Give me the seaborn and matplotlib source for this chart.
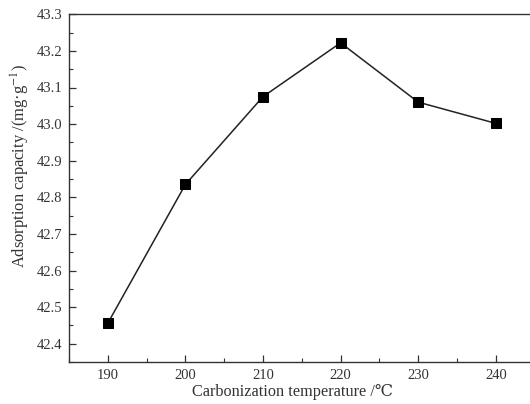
import matplotlib
matplotlib.use("Agg")
import matplotlib.pyplot as plt
import seaborn as sns
import pandas as pd
from matplotlib.ticker import MultipleLocator

temperature = [190, 200, 210, 220, 230, 240]
capacity = [42.456, 42.835, 43.075, 43.222, 43.060, 43.002]
x_ticks = [190, 200, 210, 220, 230, 240]
y_ticks = [42.4, 42.5, 42.6, 42.7, 42.8, 42.9, 43.0, 43.1, 43.2, 43.3]

sns.set_style("ticks")
plt.rcParams['font.family'] = ['Liberation Serif', 'DejaVu Serif', 'Noto Sans CJK SC']
plt.rcParams['mathtext.fontset'] = 'stix'

df = pd.DataFrame({"t": temperature, "c": capacity})

fig = plt.figure(figsize=(5.30, 4.04), dpi=100)
W, H = 530, 404
left, right, top, bottom = 69, 534.6, 14.3, 362
ax = fig.add_axes([left / W, (H - bottom) / H, (right - left) / W, (bottom - top) / H])

sns.lineplot(data=df, x="t", y="c", ax=ax, color="#222222", linewidth=1.1,
             marker="s", markersize=6.5, markeredgecolor="#000000",
             markerfacecolor="#000000")

ax.set_xlim(185, 245)
ax.set_ylim(42.35, 43.3)
ax.set_xticks(x_ticks)
ax.set_yticks(y_ticks)
ax.set_yticklabels([f"{v:.1f}" for v in y_ticks])
ax.xaxis.set_minor_locator(MultipleLocator(5))
ax.yaxis.set_minor_locator(MultipleLocator(0.05))
ax.tick_params(which="major", direction="in", length=5, width=0.9,
               labelsize=10.5, labelcolor="#333333", color="#333333", pad=5)
ax.tick_params(which="minor", direction="in", length=3, width=0.8, color="#333333")
ax.tick_params(top=False, right=False, which="both")
for s in ["left", "bottom", "top"]:
    ax.spines[s].set_linewidth(1.0)
    ax.spines[s].set_color("#333333")
ax.spines["right"].set_visible(False)

ax.set_xlabel("Carbonization temperature /℃", fontsize=11.7, color="#333333")
ax.set_ylabel("Adsorption capacity /(mg·g$^{-1}$)", fontsize=11.9, color="#333333")
ax.xaxis.set_label_coords(0.481, -0.064)
ax.yaxis.set_label_coords(-0.08, 0.563)

fig.savefig("out.png", dpi=100)
